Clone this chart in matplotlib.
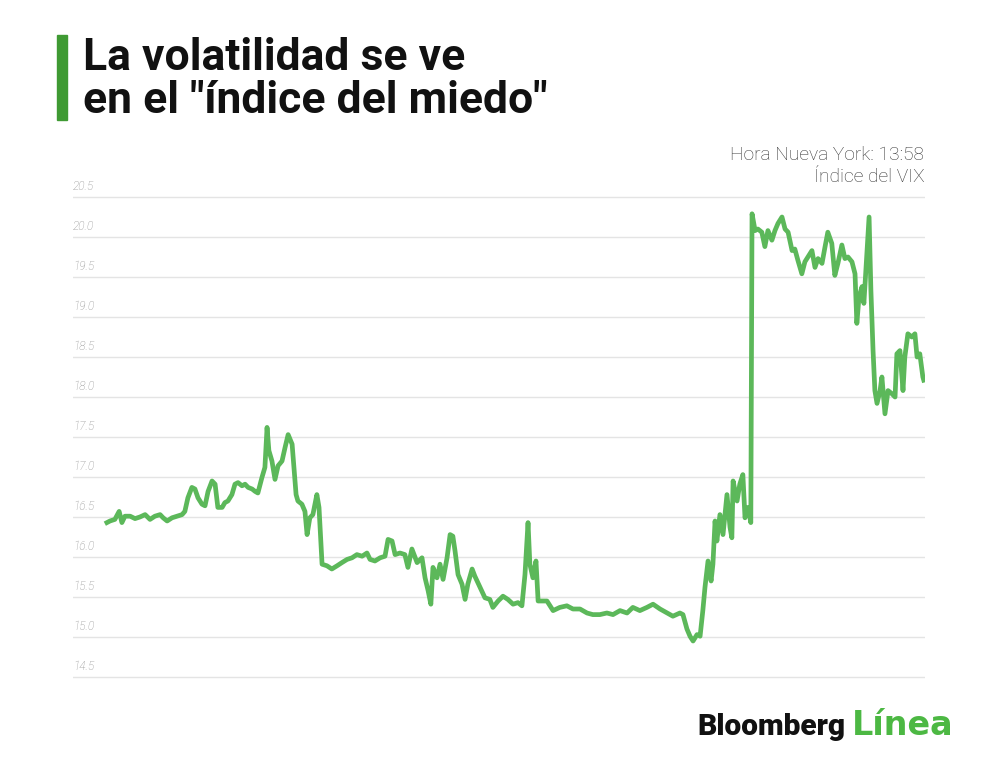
import matplotlib
matplotlib.use("Agg")
import matplotlib.pyplot as plt
import matplotlib.transforms as mtransforms

# ---- data (minutes after 9:30 New York, VIX level) --------------------------
minutes = [
    0.3, 1.3, 2.9, 4.3, 5.2, 6.2, 7.9, 9.5, 11.1, 12.8, 14.4, 16.0, 17.7, 18.7,
    20.0, 21.6, 23.2, 24.9, 25.8, 26.8, 28.1, 29.1, 30.1, 31.4, 32.4, 33.4, 34.7,
    35.7, 36.6, 38.0, 38.9, 39.9, 41.2, 42.2, 43.2, 44.5, 45.5, 46.5, 47.8, 48.8,
    49.7, 51.0, 52.0, 52.7, 53.3, 54.3, 55.3, 56.3, 57.6, 58.6, 59.6, 60.9, 61.5,
    62.2, 62.8, 64.1, 65.1, 65.8, 66.7, 67.7, 69.0, 69.7, 70.7, 72.3, 73.9, 75.6,
    77.2, 78.9, 80.5, 82.1, 83.8, 85.4, 86.4, 88.0, 89.7, 91.3, 92.3, 93.6, 94.6,
    96.2, 97.8, 98.8, 100.1, 101.8, 103.4, 104.4, 105.4, 106.3, 107.0, 108.3,
    109.3, 110.3, 111.6, 112.6, 113.5, 114.2, 115.2, 116.5, 117.5, 118.4, 119.8,
    120.7, 122.4, 124.0, 125.6, 126.6, 128.3, 129.9, 131.5, 133.2, 134.8, 136.1,
    137.1, 138.1, 138.7, 139.7, 140.7, 141.4, 144.3, 146.3, 148.5, 150.8, 152.8,
    155.1, 157.4, 159.3, 161.6, 163.9, 165.9, 168.2, 170.5, 172.4, 174.7, 177.0,
    179.0, 181.3, 183.6, 185.5, 187.8, 188.8, 190.1, 191.1, 192.1, 193.4, 194.4,
    195.3, 196.0, 197.0, 198.0, 198.6, 199.3, 199.9, 200.9, 201.9, 203.2, 204.2,
    204.8, 205.2, 206.5, 207.4, 208.4, 209.1, 210.1, 211.0, 211.4, 212.4, 213.3,
    214.6, 215.6, 216.6, 217.9, 218.9, 219.9, 221.2, 222.2, 223.2, 224.5, 225.4,
    226.4, 227.7, 228.7, 229.7, 231.0, 232.0, 233.0, 234.3, 235.3, 236.2, 237.5,
    238.5, 239.5, 240.8, 241.8, 242.8, 244.1, 245.1, 245.7, 246.4, 247.4, 248.0,
    248.7, 249.7, 250.3, 251.0, 251.6, 252.3, 253.3, 253.9, 254.9, 255.9, 257.2,
    258.2, 258.8, 259.8, 260.8, 261.4, 262.4, 263.7, 264.7, 265.4, 266.3, 267.3,
    267.6,
]
vix = [
    16.43, 16.45, 16.47, 16.57, 16.43, 16.51, 16.51, 16.48, 16.50, 16.53, 16.47,
    16.51, 16.53, 16.49, 16.45, 16.49, 16.51, 16.53, 16.57, 16.74, 16.87, 16.85,
    16.74, 16.66, 16.64, 16.82, 16.95, 16.91, 16.62, 16.62, 16.68, 16.70, 16.78,
    16.91, 16.93, 16.89, 16.91, 16.87, 16.85, 16.82, 16.80, 16.99, 17.12, 17.62,
    17.33, 17.20, 16.97, 17.14, 17.20, 17.37, 17.53, 17.41, 17.12, 16.78, 16.70,
    16.66, 16.57, 16.28, 16.49, 16.53, 16.78, 16.62, 15.91, 15.89, 15.85, 15.89,
    15.93, 15.97, 15.99, 16.03, 16.01, 16.05, 15.97, 15.95, 15.99, 16.01, 16.22,
    16.20, 16.03, 16.05, 16.03, 15.87, 16.10, 15.93, 15.99, 15.74, 15.58, 15.41,
    15.87, 15.74, 15.91, 15.72, 15.99, 16.28, 16.26, 16.08, 15.78, 15.66, 15.47,
    15.66, 15.85, 15.76, 15.62, 15.49, 15.47, 15.37, 15.45, 15.51, 15.47, 15.41,
    15.43, 15.39, 15.78, 16.43, 15.91, 15.74, 15.95, 15.45, 15.45, 15.33, 15.37,
    15.39, 15.35, 15.35, 15.30, 15.28, 15.28, 15.30, 15.28, 15.33, 15.30, 15.37,
    15.33, 15.37, 15.41, 15.35, 15.30, 15.26, 15.30, 15.28, 15.10, 15.01, 14.95,
    15.03, 15.01, 15.33, 15.62, 15.95, 15.70, 15.91, 16.45, 16.20, 16.53, 16.28,
    16.78, 16.37, 16.24, 16.95, 16.70, 16.91, 17.03, 16.49, 16.62, 16.43, 20.29,
    20.08, 20.10, 20.06, 19.88, 20.08, 19.96, 20.08, 20.17, 20.25, 20.10, 20.06,
    19.83, 19.85, 19.71, 19.54, 19.69, 19.75, 19.83, 19.62, 19.73, 19.67, 19.88,
    20.06, 19.92, 19.52, 19.67, 19.90, 19.73, 19.75, 19.69, 19.54, 18.92, 19.25,
    19.38, 19.17, 19.62, 20.25, 19.33, 18.58, 18.08, 17.92, 18.08, 18.25, 17.79,
    18.08, 18.04, 18.00, 18.54, 18.58, 18.08, 18.50, 18.79, 18.75, 18.79, 18.50,
    18.54, 18.25, 18.21,
]
yticks = [14.5, 15.0, 15.5, 16.0, 16.5, 17.0, 17.5, 18.0, 18.5, 19.0, 19.5, 20.0, 20.5]

TITLE = ["La volatilidad se ve", 'en el "índice del miedo"']
NOTE = ["Hora Nueva York: 13:58", "Índice del VIX"]

# ---- style ------------------------------------------------------------------
LINE = "#5cb85a"
BAR = "#3f9a33"
LOGO_GREEN = "#4cb843"
GRID = "#e4e4e4"
TICK = "#8a8a8a"
W, H = 1000, 766

fig = plt.figure(figsize=(W / 100, H / 100), dpi=100)
fig.patch.set_facecolor("white")

def px(x, y):
    return x / W, 1 - y / H

# axes: x 73..925 px, y 181..693 px (ylim 14.3..20.7)
ax = fig.add_axes([0.073, 1 - 693 / H, 0.925 - 0.073, (693 - 181) / H])
ax.set_xlim(-10.8, 268)
ax.set_ylim(14.3, 20.7)
for s in ax.spines.values():
    s.set_visible(False)
ax.set_xticks([])
ax.set_yticks([])

trans = mtransforms.blended_transform_factory(ax.transAxes, ax.transData)
for v in yticks:
    ax.axhline(v, color=GRID, lw=1.0, zorder=1)
    ax.text(0.0, v + 0.05, f"{v:.1f}", transform=trans, ha="left", va="bottom",
            fontsize=8.5, color=TICK, family="Roboto", style="italic", fontweight="light")

ax.plot(minutes, vix, color=LINE, lw=3.4, solid_joinstyle="round", zorder=3)

# title block
fig.patches.append(plt.Rectangle(px(57, 120), 10 / W, 85 / H, transform=fig.transFigure,
                                 color=BAR, zorder=5))
fig.text(*px(83, 70), TITLE[0], fontsize=32, fontweight="bold", family="Roboto",
         color="#111111", ha="left", va="baseline")
fig.text(*px(83, 113), TITLE[1], fontsize=32, fontweight="bold", family="Roboto",
         color="#111111", ha="left", va="baseline")

# note, top right
fig.text(*px(924, 160), NOTE[0], fontsize=13.8, fontweight="light", family="Roboto",
         color="#333333", ha="right", va="baseline")
fig.text(*px(924, 182), NOTE[1], fontsize=13.8, fontweight="light", family="Roboto",
         color="#333333", ha="right", va="baseline")

# logo
fig.text(*px(697, 735), "Bloomberg", fontsize=21.5, fontweight="black", family="Roboto",
         color="#111111", ha="left", va="baseline")
fig.text(*px(852, 735), "Línea", fontsize=24, fontweight="bold", family="DejaVu Sans",
         color=LOGO_GREEN, ha="left", va="baseline")

fig.savefig("out.png", dpi=100, facecolor="white")
